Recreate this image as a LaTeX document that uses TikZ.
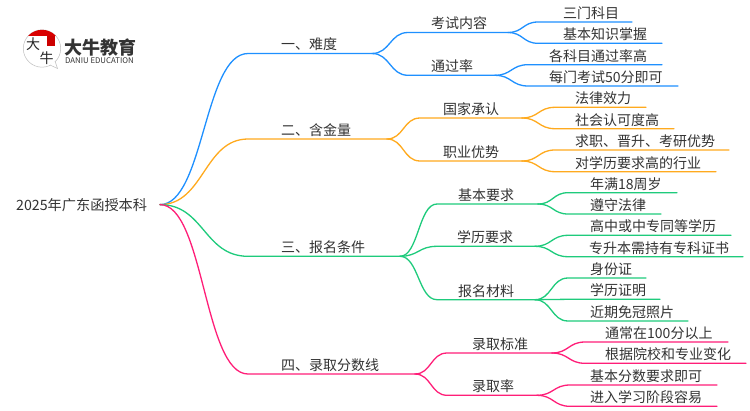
\documentclass[tikz,border=0pt]{standalone}
\usepackage{fontspec}
\setmainfont{Noto Sans CJK SC}
\usetikzlibrary{calc}
\definecolor{bl}{HTML}{1E90FF}
\definecolor{og}{HTML}{FFAA1E}
\definecolor{gr}{HTML}{1ECB7C}
\definecolor{pk}{HTML}{FF1E78}
\definecolor{ink}{HTML}{333333}
\tikzset{
  label/.style={anchor=base west,inner sep=0pt,text=ink,font=\fontsize{14}{14}\selectfont},
  link/.style={line width=1.3pt,line cap=round},
  logotext/.style={inner sep=0pt,text=ink,font=\bfseries\fontsize{18}{18}\selectfont}
}
% name, parent, x-start, x-end, y, text-x, text, colour
\newcommand{\branch}[8]{%
  \coordinate (#1-s) at (#3,#5);
  \coordinate (#1-e) at (#4,#5);
  \node[label] (#1) at (#6,#5-3.6) {#7};
  \draw[link,#8] let \p1=(#2-e),\p2=(#1-s) in (\p1) .. controls ({0.5*\x1+0.5*\x2},\y1) and ({0.5*\x1+0.5*\x2},\y2) .. (\p2) -- (#1-e);
}
\begin{document}
\begin{tikzpicture}[x=1pt,y=-1pt]
\useasboundingbox (0,0) rectangle (750,410);
\fill[white] (0,0) rectangle (750,410);
% logo
\fill[white,draw=black!25,line width=.5pt] (42,48.5) circle (18.7);
\draw[black!25,line width=.5pt,fill=white] (50,65) -- (57.5,68.5) -- (55,61);
\begin{scope}
\clip (42,48.5) circle (18.7);
\fill[red!85!black] (20,28) rectangle (64,35.5);
\end{scope}
\fill[red!80!black] (47,36) rectangle (55,46);
\node[inner sep=0pt,text=black!85,font=\fontsize{14}{14}\selectfont] (lg1) at (33,44.5) {大};
\node[inner sep=0pt,text=black!85,font=\fontsize{14}{14}\selectfont] (lg2) at (46.5,58) {牛};
\node[logotext,anchor=west] (lg3) at (64,47.5) {大牛教育};
\node[inner sep=0pt,anchor=west,text=ink,font=\fontsize{7.8}{8}\selectfont] (lg4) at (65,60.5) {DANIU EDUCATION};
% root
\node[label,font=\fontsize{14.2}{14}\selectfont] (root) at (16,210) {2025年广东函授本科};
\coordinate (root-e) at (160,204.6);
% branch 1
\branch{a}{root}{248}{372}{53.5}{281}{一、难度}{bl}
\branch{a1}{a}{408}{508}{32.5}{431}{考试内容}{bl}
\branch{a11}{a1}{538}{632}{22}{563}{三门科目}{bl}
\branch{a12}{a1}{538}{662}{43.3}{563}{基本知识掌握}{bl}
\branch{a2}{a}{408}{495}{75.3}{431}{通过率}{bl}
\branch{a21}{a2}{528}{662}{64.7}{549}{各科目通过率高}{bl}
\branch{a22}{a2}{528}{678}{86}{549}{每门考试50分即可}{bl}
% branch 2
\branch{b}{root}{248}{387}{139}{281}{二、含金量}{og}
\branch{b1}{b}{420}{522}{118}{443}{国家承认}{og}
\branch{b11}{b1}{555}{646}{107.3}{575}{法律效力}{og}
\branch{b12}{b1}{555}{674}{128.7}{575}{社会认可度高}{og}
\branch{b2}{b}{420}{522}{161}{443}{职业优势}{og}
\branch{b21}{b2}{555}{729}{150}{575}{求职、晋升、考研优势}{og}
\branch{b22}{b2}{555}{716}{171.7}{575}{对学历要求高的行业}{og}
% branch 3
\branch{c}{root}{248}{400}{256.3}{281}{三、报名条件}{gr}
\branch{c1}{c}{437}{538}{204}{458}{基本要求}{gr}
\branch{c11}{c1}{568}{677}{192.7}{590}{年满18周岁}{gr}
\branch{c12}{c1}{568}{661}{214}{590}{遵守法律}{gr}
\branch{c2}{c}{437}{535}{246.3}{457}{学历要求}{gr}
\branch{c21}{c2}{568}{731}{235.3}{590}{高中或中专同等学历}{gr}
\branch{c22}{c2}{568}{743}{256.7}{589}{专升本需持有专科证书}{gr}
\branch{c3}{c}{437}{535}{299.7}{458}{报名材料}{gr}
\branch{c31}{c3}{568}{646}{278}{590}{身份证}{gr}
\branch{c32}{c3}{568}{660}{299.3}{590}{学历证明}{gr}
\branch{c33}{c3}{568}{688}{321}{590}{近期免冠照片}{gr}
% branch 4
\branch{d}{root}{248}{415}{374}{281}{四、录取分数线}{pk}
\branch{d1}{d}{447}{552}{353}{472}{录取标准}{pk}
\branch{d11}{d1}{585}{728}{342}{605}{通常在100分以上}{pk}
\branch{d12}{d1}{585}{746}{363.3}{605}{根据院校和专业变化}{pk}
\branch{d2}{d}{447}{537}{395.3}{472}{录取率}{pk}
\branch{d21}{d2}{570}{717}{385}{590}{基本分数要求即可}{pk}
\branch{d22}{d2}{570}{717}{406.3}{590}{进入学习阶段容易}{pk}
\end{tikzpicture}
\end{document}
